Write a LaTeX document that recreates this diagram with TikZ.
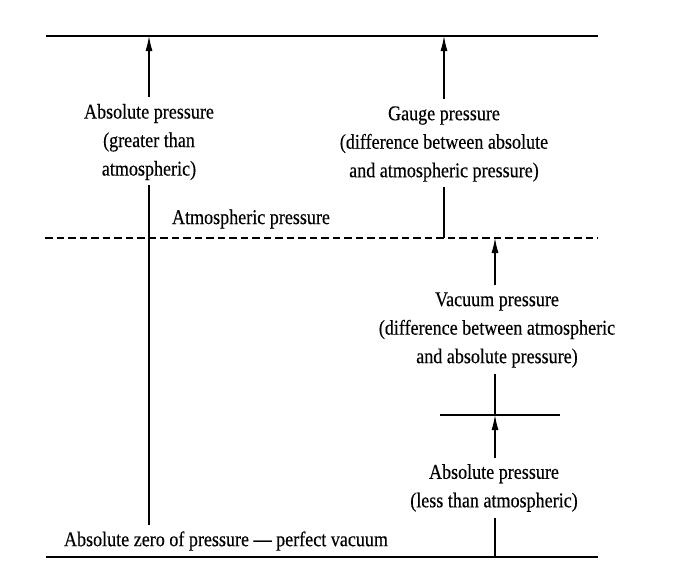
\documentclass[tikz,border=0pt]{standalone}
\usepackage{fontspec}
\setmainfont[FakeStretch=0.86,FakeBold=0.3]{Liberation Serif}
\usetikzlibrary{arrows.meta}
\begin{document}
\begin{tikzpicture}[x=1pt,y=-1pt,
  lvl/.style={line width=2.8pt},
  thin/.style={line width=1.1pt},
  arr/.style={line width=1.1pt,-{Latex[length=15pt,width=7pt]}},
  atm/.style={line width=1.2pt,dash pattern=on 7.5pt off 4pt},
  lbl/.style={font=\fontsize{21}{28.5}\selectfont,align=center,inner sep=0pt}]
\useasboundingbox (0,0) rectangle (680,570);
% levels
\coordinate (topL) at (46,36);   \coordinate (topR) at (598,36);
\coordinate (atmL) at (45,238);  \coordinate (atmR) at (598,238);
\coordinate (botL) at (46,557);  \coordinate (botR) at (598,557);
\coordinate (lowL) at (440,415); \coordinate (lowR) at (560,415);
\draw[lvl] (topL) -- (topR);
\draw[atm] (atmL) -- (atmR);
\draw[lvl] (botL) -- (botR);
\draw[lvl] (lowL) -- (lowR);
% labels
\node[lbl] (absG) at (149,142) {Absolute pressure\\(greater than\\atmospheric)};
\node[lbl] (gauge) at (444,144) {Gauge pressure\\(difference between absolute\\and atmospheric pressure)};
\node[lbl] (atmT) at (251,219) {Atmospheric pressure};
\node[lbl] (vac) at (497,330) {Vacuum pressure\\(difference between atmospheric\\and absolute pressure)};
\node[lbl] (absL) at (494,488) {Absolute pressure\\(less than atmospheric)};
\node[lbl] (zero) at (226,541) {Absolute zero of pressure --- perfect vacuum};
% connector ends
\coordinate (aG1) at (149,97);  \coordinate (aG0) at (149,36);
\coordinate (aG2) at (149,185); \coordinate (aG3) at (149,525);
\coordinate (g1) at (444,99);   \coordinate (g0) at (444,36);
\coordinate (g2) at (444,187);  \coordinate (g3) at (444,238);
\coordinate (v1) at (495,285);  \coordinate (v0) at (495,238);
\coordinate (v2) at (495,374);  \coordinate (v3) at (495,415);
\coordinate (l1) at (495,458);  \coordinate (l0) at (495,415);
\coordinate (l2) at (495,518);  \coordinate (l3) at (495,557);
\draw[arr] (aG1) -- (aG0);
\draw[thin] (aG2) -- (aG3);
\draw[arr] (g1) -- (g0);
\draw[thin] (g2) -- (g3);
\draw[arr] (v1) -- (v0);
\draw[thin] (v2) -- (v3);
\draw[arr] (l1) -- (l0);
\draw[thin] (l2) -- (l3);
\end{tikzpicture}
\end{document}
